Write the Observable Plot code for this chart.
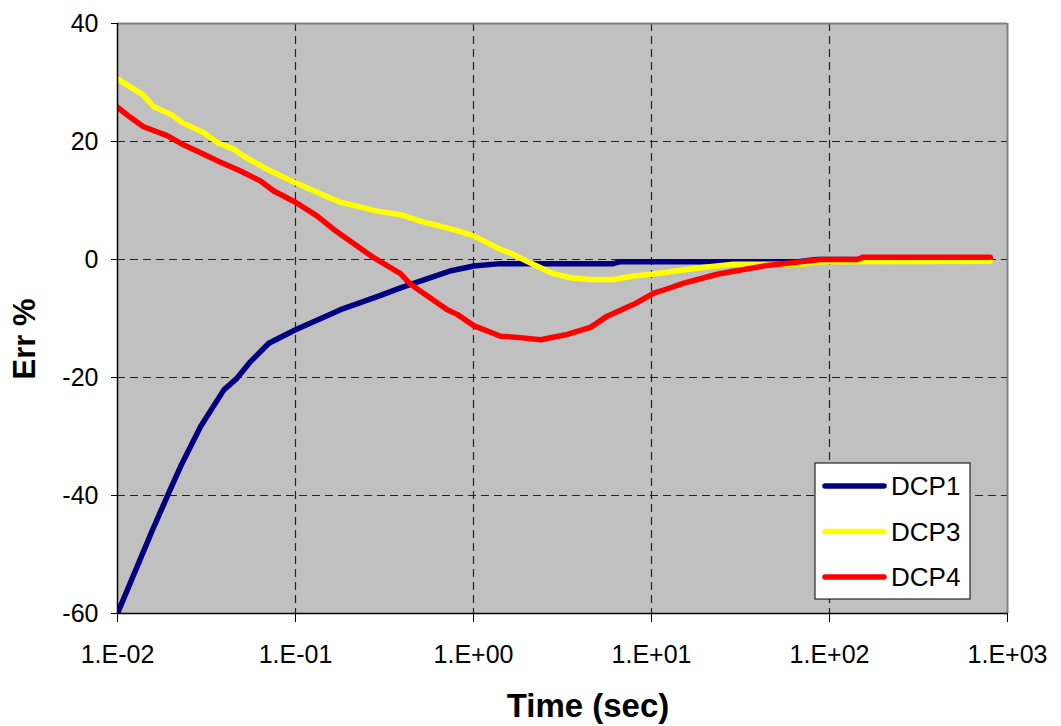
<!DOCTYPE html>
<html>
<head>
<meta charset="utf-8">
<script src="https://cdn.jsdelivr.net/npm/d3@7"></script>
<script src="https://cdn.jsdelivr.net/npm/@observablehq/plot@0.6"></script>
<style>
  html, body { margin: 0; padding: 0; background: #ffffff; }
  #chart { width: 1061px; height: 726px; }
</style>
</head>
<body>
<div id="chart"></div>
<script>
// ---- data ----
const seriesNames = ["DCP1", "DCP3", "DCP4"];
const seriesColors = ["#000080", "#ffff00", "#ff0000"];

const dcp1T = [0.01, 0.0157, 0.019, 0.0226, 0.0293, 0.0396, 0.047, 0.0559, 0.0708, 0.1, 0.141, 0.179, 0.288, 0.389, 0.596, 0.75, 1.0, 1.42, 6.1, 6.6, 65, 85, 800];
const dcp1V = [-60, -45.9, -40.2, -35.1, -28.3, -22.1, -20.1, -17.3, -14.2, -11.9, -9.9, -8.5, -6.3, -4.8, -2.9, -1.9, -1.1, -0.7, -0.7, -0.4, -0.4, 0, 0];

const dcp3T = [0.01, 0.0138, 0.016, 0.0199, 0.0231, 0.0305, 0.037, 0.045, 0.0513, 0.0692, 0.1, 0.141, 0.179, 0.288, 0.389, 0.504, 0.81, 1.0, 1.42, 1.61, 2.09, 2.81, 3.51, 4.54, 6.12, 7.92, 10, 18.8, 28.9, 68.7, 90, 800];
const dcp3V = [30.6, 28.0, 25.9, 24.6, 23.2, 21.5, 19.7, 18.7, 17.5, 15.3, 13.0, 11.0, 9.7, 8.2, 7.6, 6.5, 4.9, 4.0, 1.7, 1.1, -0.6, -2.4, -3.1, -3.4, -3.4, -2.8, -2.5, -1.4, -0.8, -0.8, -0.4, -0.3];

const dcp4T = [0.01, 0.0118, 0.014, 0.019, 0.0236, 0.0293, 0.0379, 0.0491, 0.0636, 0.0755, 0.1, 0.132, 0.164, 0.275, 0.389, 0.443, 0.712, 0.81, 1.0, 1.42, 1.76, 2.38, 3.36, 4.54, 5.64, 7.95, 10.3, 12.2, 15.2, 23.4, 29, 44.6, 68.7, 89, 143, 155, 800];
const dcp4V = [25.8, 24.1, 22.5, 21.0, 19.4, 18.1, 16.5, 15.0, 13.3, 11.6, 9.7, 7.4, 5.1, 0.3, -2.4, -4.2, -8.5, -9.3, -11.2, -13.0, -13.2, -13.6, -12.7, -11.5, -9.6, -7.6, -5.7, -5.0, -4.0, -2.5, -2.0, -1.0, -0.4, 0, 0, 0.4, 0.4];

const xTicks = [0.01, 0.1, 1, 10, 100, 1000];
const xTickLabels = ["1.E-02", "1.E-01", "1.E+00", "1.E+01", "1.E+02", "1.E+03"];
const yTicks = [-60, -40, -20, 0, 20, 40];
const yTickLabels = ["-60", "-40", "-20", "0", "20", "40"];
const xGrid = [0.1, 1, 10, 100];
const yGrid = [-40, -20, 0, 20];

// ---- build table ----
const rows = [];
[[dcp1T, dcp1V], [dcp3T, dcp3V], [dcp4T, dcp4V]].forEach(([ts, vs], k) => {
  ts.forEach((t, i) => rows.push({ series: seriesNames[k], t, v: vs[i] }));
});

const font = "'Liberation Sans', Arial, sans-serif";

const svg = Plot.plot({
  width: 1061,
  height: 726,
  marginLeft: 117,
  marginRight: 54,
  marginTop: 23,
  marginBottom: 113,
  style: { fontFamily: font, fontSize: "25px", background: "#ffffff", color: "#000", overflow: "visible" },
  x: { type: "log", domain: [0.01, 1000] },
  y: { domain: [-60, 40] },
  color: { domain: seriesNames, range: seriesColors },
  marks: [
    Plot.frame({ fill: "#c0c0c0", stroke: null }),
    Plot.ruleX(xGrid, { stroke: "#222", strokeWidth: 1.2, strokeDasharray: "8,5" }),
    Plot.ruleY(yGrid, { stroke: "#222", strokeWidth: 1.2, strokeDasharray: "8,5" }),
    // plot area border top/right (gray)
    Plot.ruleY([40], { stroke: "#808080", strokeWidth: 2 }),
    Plot.ruleX([1000], { stroke: "#808080", strokeWidth: 2 }),
    Plot.line(rows, { x: "t", y: "v", z: "series", stroke: "series", strokeWidth: 5.5, strokeLinejoin: "round", strokeLinecap: "round", clip: true }),
    // axis lines
    Plot.ruleX([0.01], { stroke: "#000", strokeWidth: 1.5 }),
    Plot.ruleY([-60], { stroke: "#000", strokeWidth: 1.5 }),
    Plot.axisX({ ticks: xTicks, tickFormat: (d) => xTickLabels[xTicks.indexOf(d)], tickSize: 9, tickPadding: 23, label: null, fontSize: 25 }),
    Plot.axisY({ ticks: yTicks, tickFormat: (d) => yTickLabels[yTicks.indexOf(d)], tickSize: 6, tickPadding: 13, label: null, fontSize: 25 })
  ]
});

const d3svg = d3.select(svg);

// axis titles
d3svg.append("text")
  .attr("transform", "translate(35,339) rotate(-90)")
  .attr("text-anchor", "middle")
  .attr("font-family", font)
  .attr("font-weight", "bold")
  .attr("font-size", 31)
  .attr("fill", "#000")
  .text("Err %");

d3svg.append("text")
  .attr("x", 588)
  .attr("y", 717)
  .attr("text-anchor", "middle")
  .attr("font-family", font)
  .attr("font-weight", "bold")
  .attr("font-size", 33)
  .attr("fill", "#000")
  .text("Time (sec)");

// legend
const lg = d3svg.append("g");
lg.append("rect").attr("x", 815).attr("y", 463).attr("width", 155).attr("height", 136)
  .attr("fill", "#fff").attr("stroke", "#000").attr("stroke-width", 1);
seriesNames.forEach((name, i) => {
  const cy = 486 + i * 45.5;
  lg.append("line").attr("x1", 825).attr("x2", 884).attr("y1", cy).attr("y2", cy)
    .attr("stroke", seriesColors[i]).attr("stroke-width", 5.5).attr("stroke-linecap", "round");
  lg.append("text").attr("x", 891).attr("y", cy + 9)
    .attr("text-anchor", "start")
    .attr("font-family", font).attr("font-size", 26).attr("fill", "#000").text(name);
});

document.getElementById("chart").appendChild(svg);
</script>
</body>
</html>
